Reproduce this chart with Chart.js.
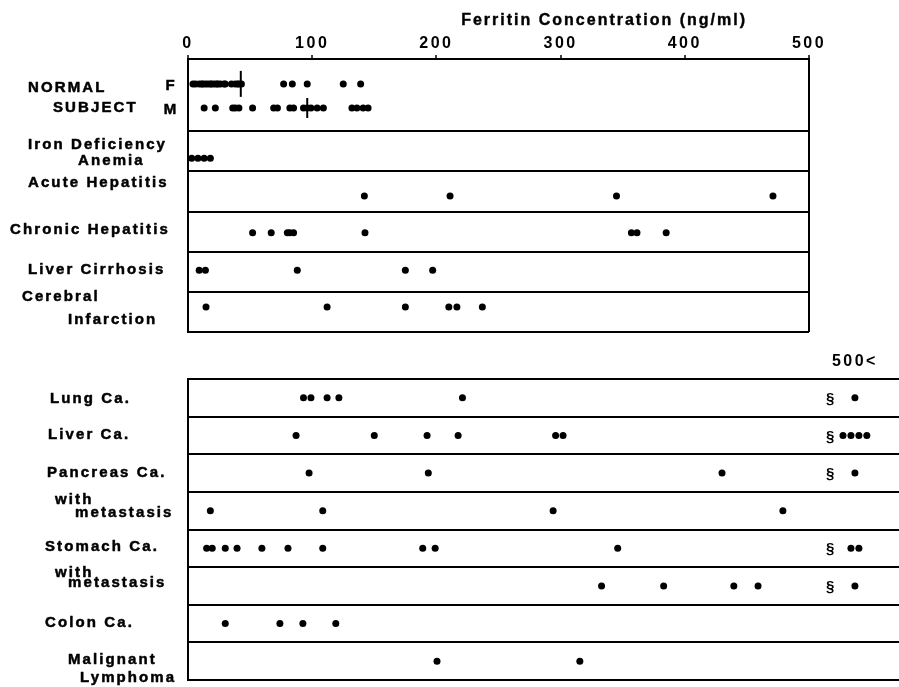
<!DOCTYPE html>
<html>
<head>
<meta charset="utf-8">
<script src="https://cdn.jsdelivr.net/npm/chart.js@4"></script>
<style>
  html, body { margin: 0; padding: 0; background: #fff; }
  #wrap { position: relative; width: 899px; height: 687px; overflow: hidden; }
  canvas { position: absolute; left: 0; }
  #upper { top: 0; }
  #lower { top: 340px; }
</style>
</head>
<body>
<div id="wrap">
  <canvas id="upper" width="899" height="340"></canvas>
  <canvas id="lower" width="899" height="347"></canvas>
</div>
<script>
// Serum ferritin (ng/ml) per subject, one dot each.
const xTicks = [0, 100, 200, 300, 400, 500];
const axisTitle = 'Ferritin Concentration (ng/ml)';
const overflowLabel = '500<';

// ---- upper panel: normal subjects and non-malignant disease ----
const upperLabels = [
  ['NORMAL', 'SUBJECT'],
  ['Iron Deficiency', 'Anemia'],
  ['Acute Hepatitis'],
  ['Chronic Hepatitis'],
  ['Liver Cirrhosis'],
  ['Cerebral', 'Infarction']
];
const sexLabels = ['F', 'M'];

const normalF = [4, 6, 9, 11, 12, 14, 16, 18, 19, 21, 23, 24, 26, 29, 30, 35, 38, 40, 41, 43,
                 77, 84, 96, 125, 139];
const normalM = [13, 22, 36, 38, 41, 52, 69, 72, 82, 85, 93, 96, 99, 104, 109, 132, 136, 141, 145];
const normalMeans = [42.5, 96];           // F, M
const ironDeficiency = [3, 8, 13, 18];
const acuteHepatitis = [142, 211, 345, 471];
const chronicHepatitis = [52, 67, 80, 82, 85, 142.5, 357, 361.5, 385];
const liverCirrhosis = [9, 14, 88, 175, 197];
const cerebralInfarction = [14.5, 112, 175, 210, 216.5, 237];

// ---- lower panel: malignant disease ----
const lowerLabels = [
  ['Lung Ca.'],
  ['Liver Ca.'],
  ['Pancreas Ca.'],
  ['with', 'metastasis'],
  ['Stomach Ca.'],
  ['with', 'metastasis'],
  ['Colon Ca.'],
  ['Malignant', 'Lymphoma']
];
const lungCa = [93, 99, 112, 121.5, 221];
const liverCa = [87, 150, 192.5, 217.5, 296, 302];
const pancreasCa = [97.5, 193.5, 430];
const pancreasMeta = [18, 108.5, 294, 479];
const stomachCa = [15, 19.5, 30, 39.5, 59.5, 80.5, 108.5, 189, 199, 346];
const stomachMeta = [333, 383, 439.5, 459];
const colonCa = [30, 74, 92.5, 119];
const lymphoma = [200.5, 315.5];
// cases above 500 ng/ml, per lower row
const over500 = [1, 4, 1, 0, 2, 1, 0, 0];

// ---- layout ----
const INK = '#000';
const FONT = '"Liberation Sans", Arial, Helvetica, sans-serif';
const UPPER_BOUNDS = [0, 1.8, 2.8, 3.8, 4.8, 5.8, 6.8];   // row separators (row units)
const UPPER_DOT_Y = [0.62, 1.22, 2.47, 3.41, 4.33, 5.26, 6.18];
const UPPER_LABEL_POS = [
  [{x: 28, y: 0.72}, {x: 53, y: 1.22}],
  [{x: 28, y: 2.14}, {x: 78, y: 2.54}],
  [{x: 28, y: 3.09}],
  [{x: 10, y: 4.26}],
  [{x: 28, y: 5.26}],
  [{x: 22, y: 5.93}, {x: 68, y: 6.5}]
];
const SEX_LABEL_X = 170;
const LOWER_ROWS = 8;
const LOWER_LABEL_POS = [
  [{x: 50, y: 0.53}],
  [{x: 48, y: 1.49}],
  [{x: 47, y: 2.5}],
  [{x: 55, y: 3.22}, {x: 75, y: 3.56}],
  [{x: 45, y: 4.47}],
  [{x: 55, y: 5.16}, {x: 68, y: 5.42}],
  [{x: 45, y: 6.48}],
  [{x: 68, y: 7.47}, {x: 80, y: 7.95}]
];
const LOWER_X_MAX = 572.5;   // lower axis runs past 500 to hold the overflow column
const OVER_AT = 537;         // centre of the "500<" column
const OVER_STEP = 6.4;       // spacing of stacked overflow dots
const BREAK_AT = 517;        // axis-break mark

function dots(values, y) {
  return {
    data: values.map(v => ({x: v, y})),
    pointStyle: 'circle',
    pointRadius: 3.5,
    pointBackgroundColor: INK,
    pointBorderWidth: 0,
    showLine: false,
    clip: false
  };
}

function overflowDots(counts) {
  const pts = [];
  counts.forEach((n, row) => {
    for (let i = 0; i < n; i++) {
      pts.push({x: OVER_AT + (i - (n - 1) / 2) * OVER_STEP, y: row + 0.5});
    }
  });
  return pts;
}

function heavyText(ctx, t, x, y, w) {
  ctx.lineWidth = w;
  ctx.strokeText(t, x, y);
  ctx.fillText(t, x, y);
}

function drawLabelLines(chart, labels, layout) {
  const ctx = chart.ctx, ys = chart.scales.y;
  ctx.save();
  ctx.fillStyle = INK;
  ctx.strokeStyle = INK;
  ctx.lineJoin = 'round';
  ctx.font = `bold 15px ${FONT}`;
  ctx.letterSpacing = '2.1px';
  ctx.textAlign = 'left';
  ctx.textBaseline = 'middle';
  labels.forEach((lines, i) => lines.forEach((t, j) => {
    const p = layout[i][j];
    heavyText(ctx, t, p.x, ys.getPixelForValue(p.y), 0.5);
  }));
  ctx.restore();
}

const spacedTicks = {
  id: 'spacedTicks',
  beforeDraw(chart) { chart.ctx.letterSpacing = '2.5px'; }
};

const upperText = {
  id: 'upperText',
  afterDraw(chart) {
    const ctx = chart.ctx, xs = chart.scales.x, ys = chart.scales.y;
    drawLabelLines(chart, upperLabels, UPPER_LABEL_POS);
    ctx.save();
    ctx.fillStyle = INK;
    ctx.strokeStyle = INK;
    ctx.textBaseline = 'middle';
    ctx.textAlign = 'center';
    ctx.font = `bold 15px ${FONT}`;
    ctx.letterSpacing = '0px';
    sexLabels.forEach((s, i) => heavyText(ctx, s, SEX_LABEL_X, ys.getPixelForValue(UPPER_DOT_Y[i]) + 2, 0.5));
    ctx.font = `bold 16px ${FONT}`;
    ctx.letterSpacing = '2px';
    heavyText(ctx, axisTitle, xs.getPixelForValue(335), chart.chartArea.top - 38, 0.4);
    ctx.restore();
  }
};

const lowerText = {
  id: 'lowerText',
  afterDraw(chart) {
    const ctx = chart.ctx, xs = chart.scales.x, ys = chart.scales.y;
    drawLabelLines(chart, lowerLabels, LOWER_LABEL_POS);
    ctx.save();
    ctx.fillStyle = INK;
    ctx.font = `bold 15px ${FONT}`;
    ctx.letterSpacing = '0px';
    ctx.textAlign = 'center';
    ctx.textBaseline = 'middle';
    over500.forEach((n, row) => {
      if (n > 0) ctx.fillText('\u00a7', xs.getPixelForValue(BREAK_AT), ys.getPixelForValue(row + 0.5) + 1);
    });
    ctx.restore();
  }
};

const tickFont = {family: FONT, size: 16, weight: 'bold'};

new Chart(document.getElementById('upper'), {
  type: 'scatter',
  data: {
    datasets: [
      dots(normalF, UPPER_DOT_Y[0]),
      dots(normalM, UPPER_DOT_Y[1]),
      dots(ironDeficiency, UPPER_DOT_Y[2]),
      dots(acuteHepatitis, UPPER_DOT_Y[3]),
      dots(chronicHepatitis, UPPER_DOT_Y[4]),
      dots(liverCirrhosis, UPPER_DOT_Y[5]),
      dots(cerebralInfarction, UPPER_DOT_Y[6]),
      {
        data: normalMeans.map((v, i) => ({x: v, y: UPPER_DOT_Y[i]})),
        pointStyle: 'line',
        pointRotation: 90,
        pointRadius: [13, 10],
        pointBorderColor: INK,
        pointBorderWidth: 2,
        showLine: false,
        clip: false
      }
    ]
  },
  options: {
    responsive: false,
    animation: false,
    events: [],
    layout: {autoPadding: false, padding: {left: 188, right: 90, top: 31.8, bottom: 8}},
    plugins: {legend: {display: false}, tooltip: {enabled: false}},
    scales: {
      x: {
        type: 'linear', position: 'top', min: 0, max: 500,
        afterBuildTicks: ax => { ax.ticks = xTicks.map(v => ({value: v})); },
        ticks: {padding: 2, color: INK, font: tickFont, maxRotation: 0, autoSkip: false},
        grid: {
          color: c => (c.tick && c.tick.value === 500) ? INK : 'rgba(0,0,0,0)',
          lineWidth: 2, tickLength: 4, tickColor: INK, tickWidth: 1.5
        },
        border: {display: true, color: INK, width: 2}
      },
      y: {
        type: 'linear', reverse: true, min: 0, max: 6.8,
        afterBuildTicks: ax => { ax.ticks = UPPER_BOUNDS.map(v => ({value: v})); },
        ticks: {display: false},
        grid: {color: INK, lineWidth: 2, drawTicks: false},
        border: {display: true, color: INK, width: 2}
      }
    }
  },
  plugins: [spacedTicks, upperText]
});

new Chart(document.getElementById('lower'), {
  type: 'scatter',
  data: {
    datasets: [
      dots(lungCa, 0.5),
      dots(liverCa, 1.5),
      dots(pancreasCa, 2.5),
      dots(pancreasMeta, 3.5),
      dots(stomachCa, 4.5),
      dots(stomachMeta, 5.5),
      dots(colonCa, 6.5),
      dots(lymphoma, 7.5),
      Object.assign(dots([], 0), {data: overflowDots(over500)})
    ]
  },
  options: {
    responsive: false,
    animation: false,
    events: [],
    layout: {autoPadding: false, padding: {left: 188, right: 0, top: 3.8, bottom: 7}},
    plugins: {legend: {display: false}, tooltip: {enabled: false}},
    scales: {
      x: {
        type: 'linear', position: 'top', min: 0, max: LOWER_X_MAX,
        afterBuildTicks: ax => { ax.ticks = [{value: OVER_AT}]; },
        ticks: {padding: 8, color: INK, font: tickFont, maxRotation: 0, autoSkip: false,
                callback: () => overflowLabel},
        grid: {display: false, drawTicks: false},
        border: {display: true, color: INK, width: 2}
      },
      y: {
        type: 'linear', reverse: true, min: 0, max: LOWER_ROWS,
        afterBuildTicks: ax => {
          ax.ticks = Array.from({length: LOWER_ROWS + 1}, (_, i) => ({value: i}));
        },
        ticks: {display: false},
        grid: {color: INK, lineWidth: 2, drawTicks: false},
        border: {display: true, color: INK, width: 2}
      }
    }
  },
  plugins: [spacedTicks, lowerText]
});
</script>
</body>
</html>
